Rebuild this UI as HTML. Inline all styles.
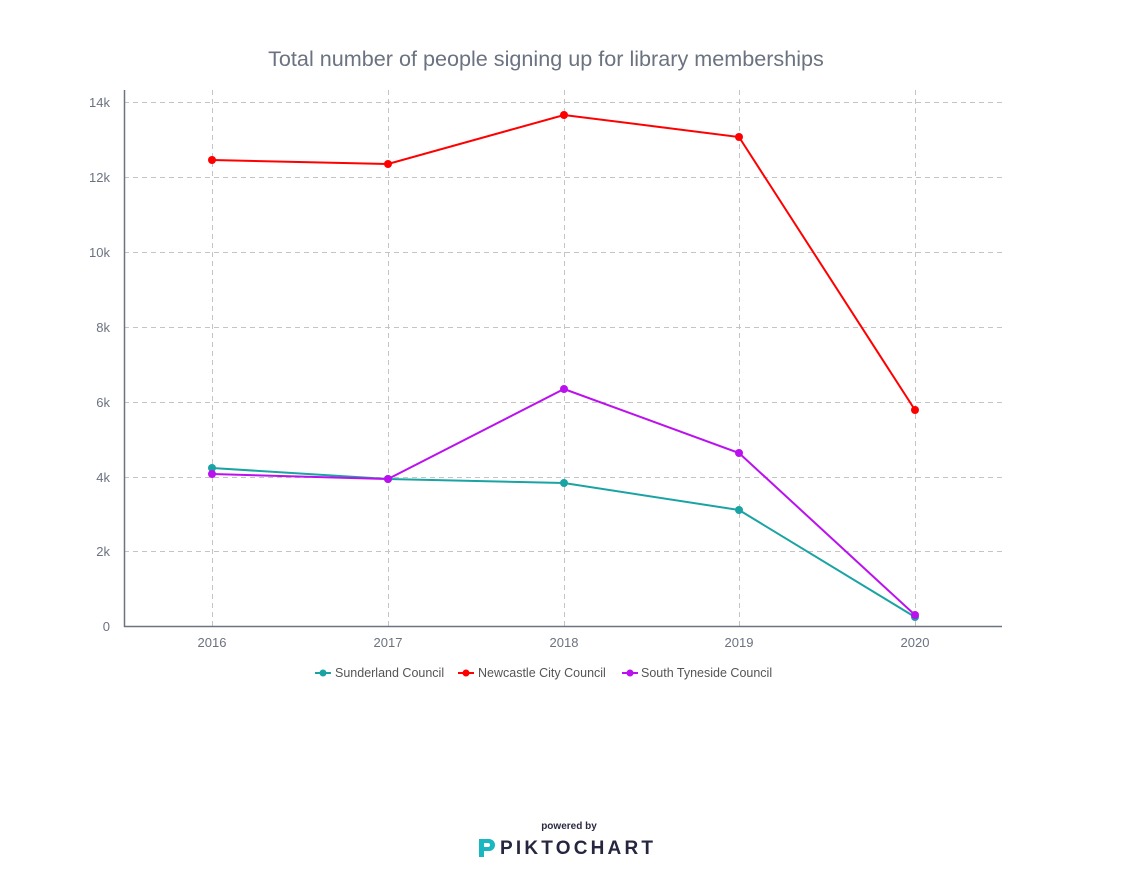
<!DOCTYPE html>
<html><head><meta charset="utf-8"><style>
body{margin:0;background:#fff;width:1131px;height:880px;overflow:hidden;font-family:"Liberation Sans",sans-serif}
</style></head><body>
<svg width="1131" height="880" xmlns="http://www.w3.org/2000/svg" font-family="Liberation Sans, sans-serif">
<text x="546" y="66" text-anchor="middle" font-size="21.6" fill="#6b7280">Total number of people signing up for library memberships</text>
<g stroke="#c4c4c4" stroke-dasharray="5,4" stroke-width="1">
<line x1="124" y1="102.5" x2="1002" y2="102.5"/>
<line x1="124" y1="177.5" x2="1002" y2="177.5"/>
<line x1="124" y1="252.5" x2="1002" y2="252.5"/>
<line x1="124" y1="327.5" x2="1002" y2="327.5"/>
<line x1="124" y1="402.5" x2="1002" y2="402.5"/>
<line x1="124" y1="477.5" x2="1002" y2="477.5"/>
<line x1="124" y1="551.5" x2="1002" y2="551.5"/>
<line x1="212.5" y1="90" x2="212.5" y2="627"/>
<line x1="388.5" y1="90" x2="388.5" y2="627"/>
<line x1="564.5" y1="90" x2="564.5" y2="627"/>
<line x1="739.5" y1="90" x2="739.5" y2="627"/>
<line x1="915.5" y1="90" x2="915.5" y2="627"/>
</g>
<line x1="124.5" y1="90" x2="124.5" y2="627" stroke="#6b7280" stroke-width="1.5"/>
<line x1="124" y1="626.5" x2="1002" y2="626.5" stroke="#6b7280" stroke-width="1.5"/>
<g font-size="13" fill="#6b7280" text-anchor="end">
<text x="110" y="107">14k</text><text x="110" y="182">12k</text><text x="110" y="257">10k</text>
<text x="110" y="332">8k</text><text x="110" y="407">6k</text><text x="110" y="482">4k</text>
<text x="110" y="556">2k</text><text x="110" y="631">0</text>
</g>
<g font-size="13" fill="#6b7280" text-anchor="middle">
<text x="212" y="647">2016</text><text x="388" y="647">2017</text><text x="564" y="647">2018</text>
<text x="739" y="647">2019</text><text x="915" y="647">2020</text>
</g>
<g stroke-width="2" fill="none">
<polyline stroke="#1aa3a3" points="212,468 388,479 564,483 739,510 915,617"/>
<polyline stroke="#bb11ee" points="212,474 388,479 564,389 739,453 915,615"/>
<polyline stroke="#ff0000" points="212,160 388,164 564,115 739,137 915,410"/>
</g>
<g fill="#1aa3a3"><circle cx="212" cy="468" r="4"/><circle cx="388" cy="479" r="4"/><circle cx="564" cy="483" r="4"/><circle cx="739" cy="510" r="4"/><circle cx="915" cy="617" r="4"/></g>
<g fill="#bb11ee"><circle cx="212" cy="474" r="4"/><circle cx="388" cy="479" r="4"/><circle cx="564" cy="389" r="4"/><circle cx="739" cy="453" r="4"/><circle cx="915" cy="615" r="4"/></g>
<g fill="#ff0000"><circle cx="212" cy="160" r="4"/><circle cx="388" cy="164" r="4"/><circle cx="564" cy="115" r="4"/><circle cx="739" cy="137" r="4"/><circle cx="915" cy="410" r="4"/></g>
<g font-size="12.5" fill="#555">
<line x1="315" y1="673" x2="331" y2="673" stroke="#1aa3a3" stroke-width="2"/><circle cx="323" cy="673" r="3.5" fill="#1aa3a3"/>
<text x="335" y="677">Sunderland Council</text>
<line x1="458" y1="673" x2="474" y2="673" stroke="#ff0000" stroke-width="2"/><circle cx="466" cy="673" r="3.5" fill="#ff0000"/>
<text x="478" y="677">Newcastle City Council</text>
<line x1="622" y1="673" x2="638" y2="673" stroke="#bb11ee" stroke-width="2"/><circle cx="630" cy="673" r="3.5" fill="#bb11ee"/>
<text x="641" y="677">South Tyneside Council</text>
</g>
<text x="569" y="829" text-anchor="middle" font-size="10" font-weight="bold" fill="#2a2a40">powered by</text>
<path d="M479,839 h10 a6,6 0 0 1 0,12 h-5 v6 h-5 z M484,843 v4 h4 a2,2 0 0 0 0,-4 z" fill="#1ab6c1"/>
<text x="500" y="854" font-size="19" font-weight="bold" fill="#262640" letter-spacing="3.2">PIKTOCHART</text>
</svg>
</body></html>
